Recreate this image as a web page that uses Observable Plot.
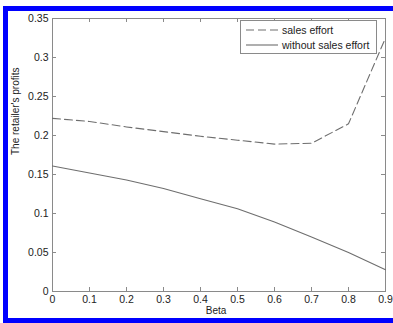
<!DOCTYPE html>
<html>
<head>
<meta charset="utf-8">
<script src="https://cdn.jsdelivr.net/npm/d3@7"></script>
<script src="https://cdn.jsdelivr.net/npm/@observablehq/plot@0.6"></script>
<style>
  html, body { margin: 0; padding: 0; background: #fff; overflow: hidden; width: 393px; height: 323px; }
  #wrap { position: relative; width: 393px; height: 323px; overflow: hidden; background: #fff; font-family: "Liberation Sans", Arial, sans-serif; }
  .bar { position: absolute; background: #0000ff; }
  #chart { position: absolute; left: 0; top: 0; }
  #legend { position: absolute; left: 240px; top: 20px; width: 135px; height: 32px; border: 1px solid #8a8a8a; background: #fff; font-size: 10.5px; color: #222; }
  #legend .row { position: absolute; left: 5px; height: 14px; display: flex; align-items: center; }
  #legend svg { width: 32px; height: 6px; margin-right: 4px; }
</style>
</head>
<body>
<div id="wrap">
  <div class="bar" style="left:3px; top:6px; width:390px; height:5px"></div>
  <div class="bar" style="left:3px; top:6px; width:5px; height:317px"></div>
  <div class="bar" style="left:3px; top:318px; width:390px; height:5px"></div>
  <div id="chart"></div>
  <div id="legend">
    <div class="row" style="top:2px"><svg><line x1="0" y1="3" x2="32" y2="3" stroke="#6e6e6e" stroke-width="1.1" stroke-dasharray="8,4"/></svg><span>sales effort</span></div>
    <div class="row" style="top:17px"><svg><line x1="0" y1="3" x2="32" y2="3" stroke="#6e6e6e" stroke-width="1.1"/></svg><span>without sales effort</span></div>
  </div>
</div>
<script>
const beta = [0, 0.1, 0.2, 0.3, 0.4, 0.5, 0.6, 0.7, 0.8, 0.9];
const salesEffort = [0.222, 0.218, 0.211, 0.205, 0.199, 0.194, 0.189, 0.190, 0.215, 0.325];
const withoutSalesEffort = [0.161, 0.152, 0.143, 0.132, 0.119, 0.106, 0.089, 0.070, 0.050, 0.028];
const xTicks = [0, 0.1, 0.2, 0.3, 0.4, 0.5, 0.6, 0.7, 0.8, 0.9];
const xTickLabels = ["0", "0.1", "0.2", "0.3", "0.4", "0.5", "0.6", "0.7", "0.8", "0.9"];
const yTicks = [0, 0.05, 0.1, 0.15, 0.2, 0.25, 0.3, 0.35];
const yTickLabels = ["0", "0.05", "0.1", "0.15", "0.2", "0.25", "0.3", "0.35"];

const salesData = beta.map((b, i) => ({beta: b, value: salesEffort[i]}));
const withoutData = beta.map((b, i) => ({beta: b, value: withoutSalesEffort[i]}));

const W = 393, H = 323, mL = 52, mR = 8, mT = 18, mB = 32;
const innerW = W - mL - mR, innerH = H - mT - mB, tk = 4;
const axisColor = "#8a8a8a", lineColor = "#6e6e6e";

const chart = Plot.plot({
  width: W, height: H,
  marginLeft: mL, marginRight: mR, marginTop: mT, marginBottom: mB,
  style: {fontFamily: "'Liberation Sans', Arial, sans-serif", fontSize: "10.5px", color: "#222", background: "transparent", overflow: "hidden"},
  x: {domain: [0, 0.9]},
  y: {domain: [0, 0.35]},
  marks: [
    Plot.frame({stroke: axisColor}),
    Plot.tickX(xTicks, {x: d => d, insetTop: innerH - tk, stroke: axisColor}),
    Plot.tickX(xTicks, {x: d => d, insetBottom: innerH - tk, stroke: axisColor}),
    Plot.tickY(yTicks, {y: d => d, insetRight: innerW - tk, stroke: axisColor}),
    Plot.tickY(yTicks, {y: d => d, insetLeft: innerW - tk, stroke: axisColor}),
    Plot.axisX(xTicks, {tickSize: 0, tickPadding: 4, tickFormat: d => xTickLabels[xTicks.indexOf(d)], label: null, fill: "#222"}),
    Plot.axisY(yTicks, {tickSize: 0, tickPadding: 4, tickFormat: d => yTickLabels[yTicks.indexOf(d)], label: null, fill: "#222"}),
    Plot.line(salesData, {x: "beta", y: "value", stroke: lineColor, strokeWidth: 1.1, strokeDasharray: "8,4"}),
    Plot.line(withoutData, {x: "beta", y: "value", stroke: lineColor, strokeWidth: 1.1}),
    Plot.text(["Beta"], {text: d => d, frameAnchor: "bottom", dy: 22, dx: -3, fill: "#222", fontSize: 10}),
    Plot.text(["The retailer's profits"], {text: d => d, frameAnchor: "left", dx: -37, rotate: -90, fill: "#222", fontSize: 10})
  ]
});
document.getElementById("chart").appendChild(chart);
</script>
</body>
</html>
